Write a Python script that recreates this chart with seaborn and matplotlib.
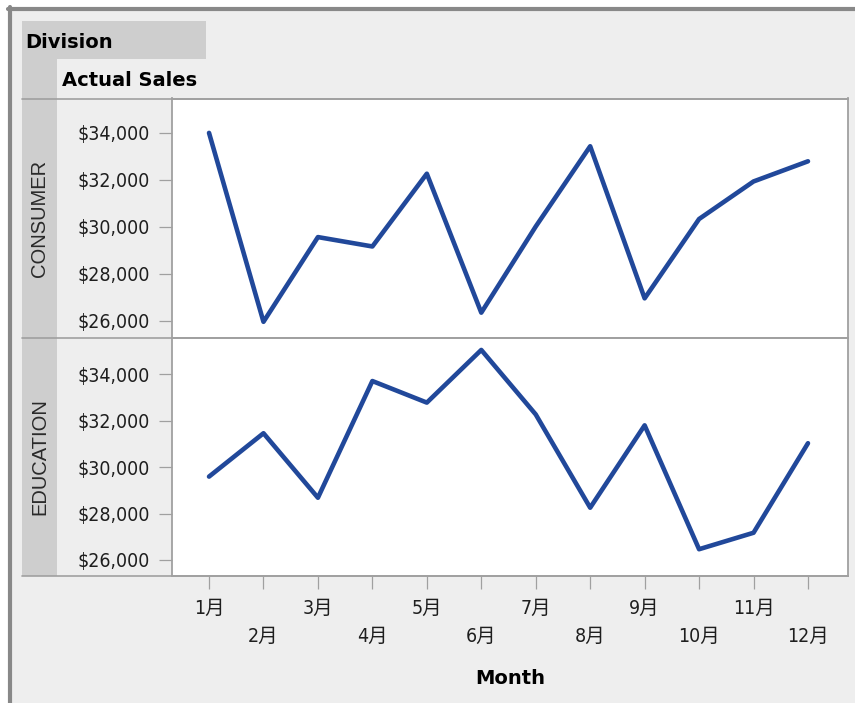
import matplotlib
matplotlib.use("Agg")
import matplotlib.pyplot as plt
from matplotlib.patches import Rectangle
from matplotlib.lines import Line2D
from matplotlib.ticker import FuncFormatter
import seaborn as sns
import pandas as pd

# ---- data ----
months = ["1月", "2月", "3月", "4月", "5月", "6月", "7月", "8月", "9月", "10月", "11月", "12月"]
month_num = [1, 2, 3, 4, 5, 6, 7, 8, 9, 10, 11, 12]
divisions = ["CONSUMER", "EDUCATION"]
consumer_sales = [34000, 25950, 29560, 29160, 32260, 26340, 30010, 33430, 26950, 30330, 31930, 32790]
education_sales = [29590, 31460, 28680, 33710, 32780, 35050, 32270, 28250, 31800, 26460, 27170, 31030]
y_ticks = [26000, 28000, 30000, 32000, 34000]

df = pd.DataFrame({
    "Month": month_num * 2,
    "Division": [divisions[0]] * 12 + [divisions[1]] * 12,
    "Actual Sales": consumer_sales + education_sales,
})

sns.set_theme(style="white")
plt.rcParams["font.family"] = ["DejaVu Sans", "Noto Sans CJK JP"]

W, H = 855, 703
fig = plt.figure(figsize=(W / 100, H / 100), dpi=100, facecolor="white")

def fx(x):
    return x / W

def fy(y):
    return 1 - y / H

BG = "#EEEEEE"
STRIP = "#CECECE"
GRID = "#A0A0A0"
LINE = "#21489A"
TXT = "#1E1E1E"

# background and frame
fig.add_artist(Rectangle((fx(8), 0), 1 - fx(8), fy(7), transform=fig.transFigure,
                         facecolor=BG, edgecolor="none", zorder=-3))
fig.add_artist(Line2D([fx(8), 1], [fy(9), fy(9)], transform=fig.transFigure,
                      color="#888888", lw=3.0, zorder=4))
fig.add_artist(Line2D([fx(10), fx(10)], [0, fy(7)], transform=fig.transFigure,
                      color="#888888", lw=3.0, zorder=4))
# strips
fig.add_artist(Rectangle((fx(22), fy(59)), fx(206) - fx(22), fy(21) - fy(59), transform=fig.transFigure,
                         facecolor=STRIP, edgecolor="none", zorder=-2))
fig.add_artist(Rectangle((fx(22), fy(576)), fx(57) - fx(22), fy(59) - fy(576), transform=fig.transFigure,
                         facecolor=STRIP, edgecolor="none", zorder=-2))
for yy in (98.5, 338, 576):
    fig.add_artist(Line2D([fx(22), fx(848)], [fy(yy), fy(yy)], transform=fig.transFigure,
                          color=GRID, lw=1.2, zorder=3))

fig.text(fx(25), fy(43), "Division", fontsize=14, fontweight="bold", color="black",
         ha="left", va="center", family="DejaVu Sans")
fig.text(fx(62), fy(80), "Actual Sales", fontsize=14, fontweight="bold", color="black",
         ha="left", va="center", family="DejaVu Sans")

panels = [(98.5, 338, (25260, 35465)), (338, 576, (25306, 35565))]
tickfont = dict(family=["DejaVu Sans", "Noto Sans CJK JP"], stretch="condensed", size=14)

axes = []
for i, (top, bot, ylim) in enumerate(panels):
    ax = fig.add_axes([fx(172), fy(bot), fx(848) - fx(172), fy(top) - fy(bot)])
    ax.set_facecolor("white")
    sub = df[df["Division"] == divisions[i]]
    sns.lineplot(data=sub, x="Month", y="Actual Sales", ax=ax, color=LINE, linewidth=3.3,
                 legend=False)
    ax.set_xlim(0.32, 12.735)
    ax.set_ylim(*ylim)
    ax.set_yticks(y_ticks)
    ax.yaxis.set_major_formatter(FuncFormatter(lambda v, p: f"${v:,.0f}"))
    for lab in ax.get_yticklabels():
        lab.set_fontproperties(matplotlib.font_manager.FontProperties(**tickfont))
    ax.tick_params(axis="y", left=True, length=9.5, width=0.9, color=GRID, pad=6.5,
                   labelcolor=TXT)
    ax.set_xlabel("")
    ax.set_ylabel("")
    for s in ax.spines.values():
        s.set_color(GRID)
        s.set_linewidth(1.3)
    ax.set_xticks(month_num)
    if i == 0:
        ax.tick_params(axis="x", bottom=False, labelbottom=False)
    else:
        ax.set_xticklabels(months)
        for lab in ax.get_xticklabels():
            lab.set_fontproperties(matplotlib.font_manager.FontProperties(**tickfont))
        ax.tick_params(axis="x", bottom=True, length=9.5, width=0.9, color=GRID, pad=7,
                       labelcolor=TXT)
        for k, t in enumerate(ax.xaxis.get_major_ticks()):
            if k % 2 == 1:
                t.set_pad(27)
    fig.text(fx(40), fy((top + bot) / 2), divisions[i], rotation=90, fontsize=14.5,
             ha="center", va="center", color="#2A2A2A", family="Liberation Sans")
    axes.append(ax)

fig.text(fx(510), fy(678), "Month", fontsize=14, fontweight="bold", color="black",
         ha="center", va="center", family="DejaVu Sans")

fig.savefig("out.png", dpi=100, facecolor="white")
